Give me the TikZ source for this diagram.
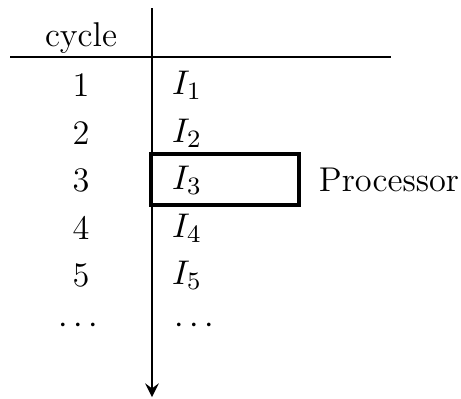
\documentclass[tikz,border=0pt]{standalone}
\usepackage{amsmath}
\usepackage{xcolor}

\begin{document}
\begin{tikzpicture}[x=0.01125cm, y=-0.01125cm, every node/.style={font=\fontsize{11}{13}\selectfont}]
\useasboundingbox (0,0) rectangle (461,398);
\coordinate (T) at (152,8);
\coordinate (B) at (152,397);
\coordinate (L) at (10,57);
\coordinate (R) at (391,57);
\draw[line width=0.9pt] (L) -- (R);
\draw[line width=0.9pt, ->, >=stealth] (T) -- (B);
\node (cyc) at (81,38) {cycle};
\node (c1) at (81,85) {1};
\node (c2) at (81,133) {2};
\node (c3) at (81,180) {3};
\node (c4) at (81,228) {4};
\node (c5) at (81,275) {5};
\node (c6) at (81,326) {$\cdots$};
\node (I1) at (187,85) {$I_1$};
\node (I2) at (187,133) {$I_2$};
\node (I3) at (187,180) {$I_3$};
\node (I4) at (187,228) {$I_4$};
\node (I5) at (187,275) {$I_5$};
\node (I6) at (197,326) {$\cdots$};
\draw[line width=1pt] (151,154) rectangle (299,205);
\node (P) at (389,180) {Processor};
\end{tikzpicture}
\end{document}
